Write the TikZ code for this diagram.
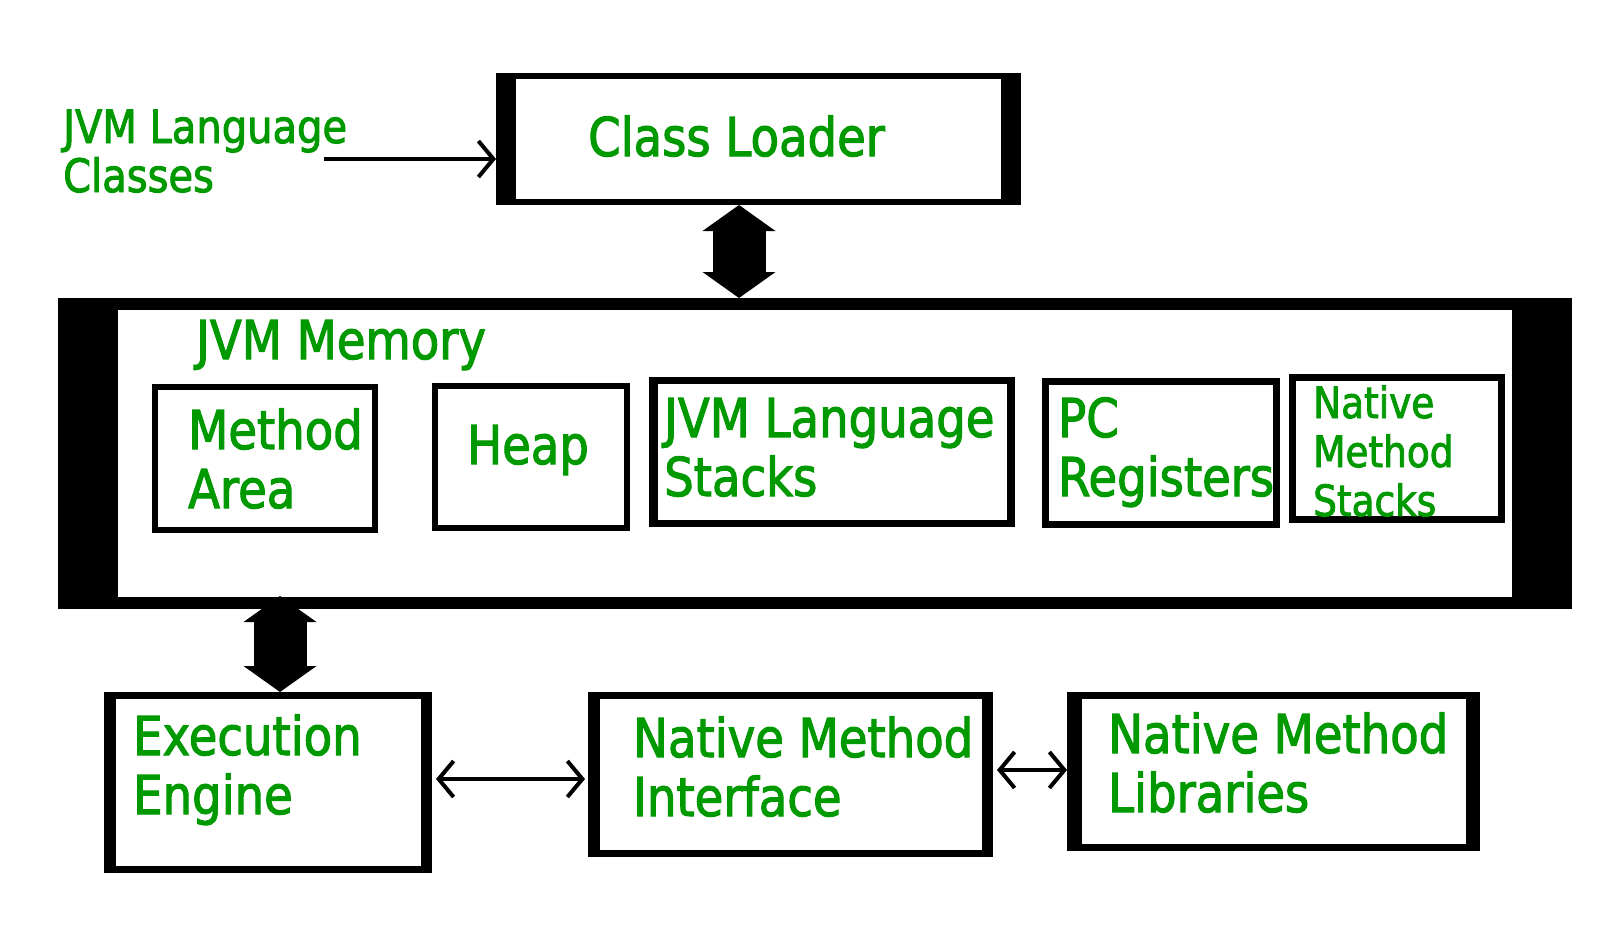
\documentclass[tikz,border=0pt]{standalone}
\usepackage{fontspec}
\setmainfont{DejaVu Sans}[FakeStretch=0.87,FakeBold=2]
\usetikzlibrary{arrows.meta,calc}
\definecolor{jvmgreen}{RGB}{0,153,0}

\begin{document}
\begin{tikzpicture}[
  x=1pt,y=-1pt,
  block/.style={draw,line width=7pt,inner sep=0pt,fill=white},
  bars/.style={path picture={
    \fill[black] (path picture bounding box.south west) rectangle ([xshift=#1]path picture bounding box.north west);
    \fill[black] (path picture bounding box.south east) rectangle ([xshift=-#1]path picture bounding box.north east);}},
  lbl/.style={text=jvmgreen,anchor=base west,inner sep=0pt,align=left,font=\fontsize{53.5pt}{59pt}\selectfont},
  smalllbl/.style={lbl,font=\fontsize{43pt}{49pt}\selectfont},
  feed/.style={line width=4pt,-{Straight Barb[length=15pt,width=36pt]}},
  link/.style={line width=4pt,{Straight Barb[length=15pt,width=36pt]}-{Straight Barb[length=15pt,width=36pt]}},
  bigarrow/.style={line width=53pt,{Triangle[width=73pt,length=26pt,line width=0pt]}-{Triangle[width=73pt,length=26pt,line width=0pt]}}
]
  \useasboundingbox[fill=white] (0,0) rectangle (1600,948);

  % boxes
  \node[block,line width=6pt,bars=17pt,minimum width=519pt,minimum height=126pt] (loader) at (758.5,139) {};
  \node[block,line width=12pt,bars=54pt,minimum width=1502pt,minimum height=299pt] (memory) at (815,453.5) {};
  \node[block,line width=6pt,bars=3pt,minimum width=220pt,minimum height=143pt] (method) at (265,458.5) {};
  \node[block,line width=6pt,bars=2pt,minimum width=192pt,minimum height=142pt] (heap) at (531,457) {};
  \node[block,bars=5pt,minimum width=359pt,minimum height=143pt] (stacks) at (832,452) {};
  \node[block,bars=2pt,minimum width=231pt,minimum height=143pt] (pc) at (1161,453) {};
  \node[block,bars=2pt,minimum width=209pt,minimum height=142pt] (nms) at (1397,448.5) {};
  \node[block,bars=8pt,minimum width=321pt,minimum height=174pt] (ee) at (268,782.5) {};
  \node[block,bars=8pt,minimum width=398pt,minimum height=158pt] (nmi) at (790.5,774.5) {};
  \node[block,bars=11pt,minimum width=406pt,minimum height=152pt] (nml) at (1273.5,771.5) {};

  % labels (base = last line)
  \node[lbl,font=\fontsize{46pt}{49pt}\selectfont] (classes) at (63,192) {JVM Language\\Classes};
  \node[lbl] (loaderlbl) at (588,156) {Class Loader};
  \node[lbl] (memorylbl) at (196,359) {JVM Memory};
  \node[lbl] (methodlbl) at (188,508) {Method\\Area};
  \node[lbl] (heaplbl) at (467,464) {Heap};
  \node[lbl] (stackslbl) at (664,496) {JVM Language\\Stacks};
  \node[lbl] (pclbl) at (1058,496) {PC\\Registers};
  \node[smalllbl] (nmslbl) at (1313,516) {Native\\Method\\Stacks};
  \node[lbl] (eelbl) at (133,814) {Execution\\Engine};
  \node[lbl] (nmilbl) at (633,816) {Native Method\\Interface};
  \node[lbl] (nmllbl) at (1108,812) {Native Method\\Libraries};

  % connectors
  \coordinate (feedstart) at (324,159);
  \draw[feed] (feedstart) -- (feedstart -| loader.west);
  \draw[bigarrow] ([xshift=-19.5pt]loader.south) -- ([xshift=-19.5pt]loader.south |- memory.north);
  \draw[bigarrow] ($(ee.north |- memory.south)+(12,-13)$) -- ([xshift=12pt]ee.north);
  \draw[link] ([xshift=4pt,yshift=3.5pt]ee.east) -- ([xshift=-3pt,yshift=-4.5pt]nmi.west);
  \draw[link] ([xshift=4pt,yshift=4.5pt]nmi.east) -- ([yshift=1.5pt]nml.west);
\end{tikzpicture}
\end{document}
